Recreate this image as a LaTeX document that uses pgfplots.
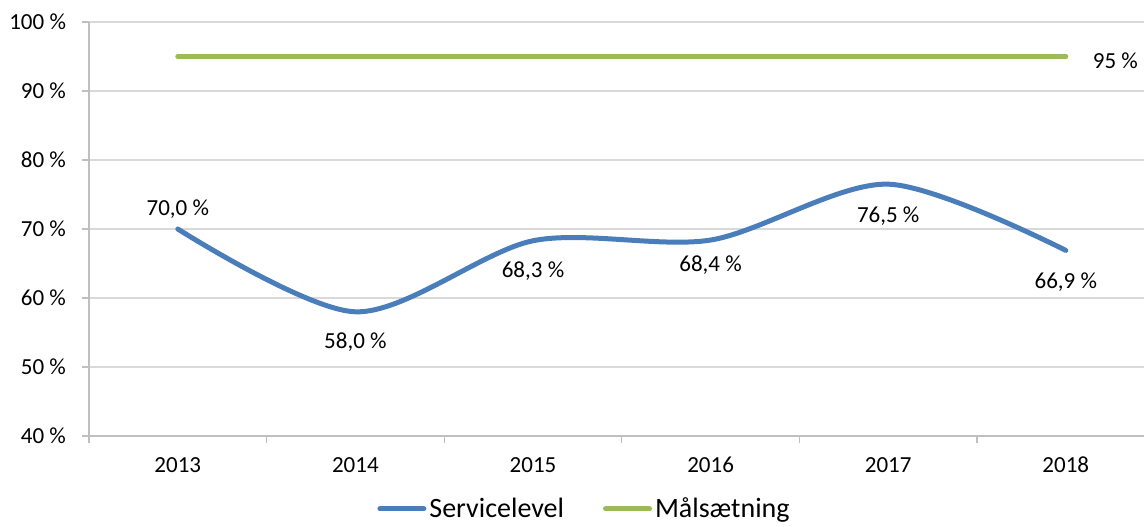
\documentclass[border=0pt]{standalone}
\usepackage{pgfplots}
\pgfplotsset{compat=1.18}
\usepackage{fontspec}
\setmainfont{Carlito}

\definecolor{slblue}{HTML}{4A7EBB}
\definecolor{slgreen}{HTML}{9BBB59}
\definecolor{gridgray}{HTML}{D9D9D9}
\definecolor{axisgray}{HTML}{BFBFBF}

\begin{document}
\begin{tikzpicture}
\useasboundingbox (0,0) rectangle (572pt,263pt);
\begin{axis}[
    at={(44.5pt,45pt)}, anchor=south west,
    scale only axis, width=532.8pt, height=207pt,
    xmin=-0.5, xmax=5.5, ymin=40, ymax=100,
    clip=false,
    axis lines*=left,
    axis line style={draw=axisgray, line width=0.6pt},
    xtick={-0.5,0.5,...,5.5},
    xticklabels={2013,2014,2015,2016,2017,2018},
    x tick label as interval,
    ytick={40,50,...,100},
    yticklabel={\pgfmathprintnumber{\tick}~\%},
    /pgf/number format/assume math mode=true,
    tick align=outside, major tick length=3.5pt,
    tick style={draw=axisgray, line width=0.6pt},
    ymajorgrids, grid style={draw=gridgray, line width=0.6pt},
    tick label style={font=\fontsize{11.5}{13}\selectfont},
    yticklabel style={xshift=-4.5pt},
    xticklabel style={yshift=-3.5pt},
    legend style={at={(0.4655,-0.176)}, anchor=center, draw=none,
        font=\fontsize{14}{16}\selectfont,
        nodes={inner xsep=1.5pt},
        /tikz/every even column/.append style={column sep=18pt}},
    legend columns=2,
    legend image code/.code={\draw[#1] (0pt,0pt) -- (22pt,0pt);},
]
\addplot[line width=2.5pt, color=slblue, line cap=round, smooth,
    nodes near coords={\pgfmathprintnumber[fixed,fixed zerofill,precision=1,use comma]{\pgfplotspointmeta}~\%},
    point meta=y,
    visualization depends on={\thisrow{dy}\as\dy},
    nodes near coords style={anchor=center, yshift=\dy pt, text=black,
        font=\fontsize{11.5}{13}\selectfont}]
table[x=x, y=y] {
x y    dy
0 70.0 10
1 58.0 -15
2 68.3 -15
3 68.4 -12.5
4 76.5 -16
5 66.9 -16
};
\addlegendentry{Servicelevel}
\addplot[line width=2.5pt, color=slgreen, line cap=round]
coordinates {(0,95) (5,95)}
node[pos=1, anchor=west, xshift=9pt, yshift=-2pt, text=black,
     font=\fontsize{11.5}{13}\selectfont] {95~\%};
\addlegendentry{Målsætning}
\end{axis}
\end{tikzpicture}
\end{document}
